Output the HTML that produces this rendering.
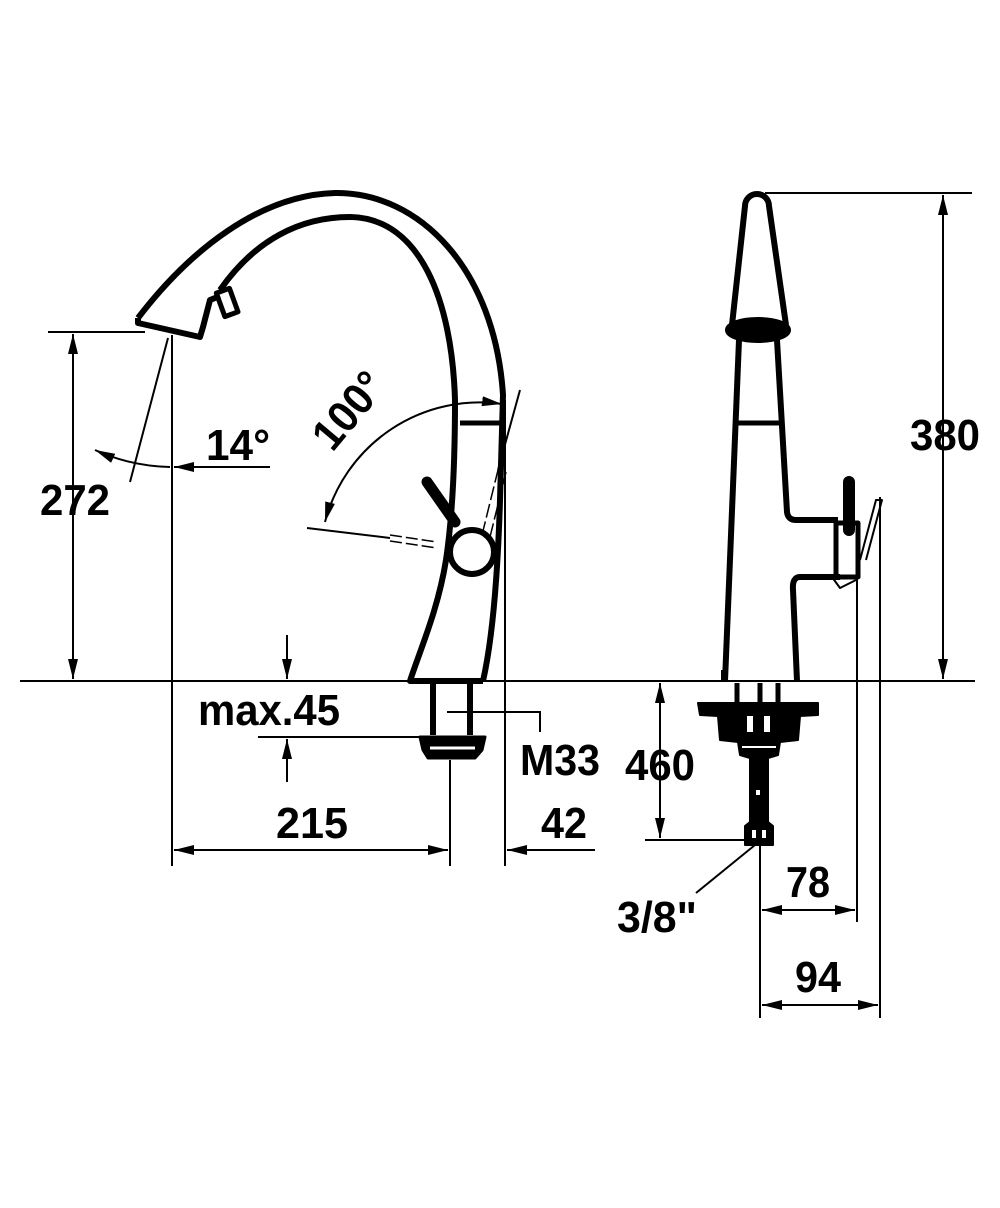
<!DOCTYPE html>
<html><head><meta charset="utf-8"><style>html,body{margin:0;padding:0;background:#fff}svg{display:block}text{font-family:"Liberation Sans",sans-serif;font-weight:bold;font-size:44px;fill:#000}</style></head>
<body>
<svg width="1000" height="1208" viewBox="0 0 1000 1208" xmlns="http://www.w3.org/2000/svg">
<defs>
<marker id="a" viewBox="0 0 20 10" refX="20" refY="5" markerWidth="20" markerHeight="10" markerUnits="userSpaceOnUse" orient="auto-start-reverse"><path d="M0,0L20,5L0,10z" fill="#000"/></marker>
</defs>
<g stroke="#000" fill="none" stroke-width="2">
<line x1="20" y1="681" x2="975" y2="681"/>
<line x1="48" y1="332" x2="145" y2="332"/>
<line x1="73" y1="334" x2="73" y2="679" marker-start="url(#a)" marker-end="url(#a)"/>
<line x1="172" y1="335" x2="172" y2="866"/>
<line x1="168" y1="338" x2="130" y2="482"/>
<path d="M95,450 Q130,466 170,467" marker-start="url(#a)"/>
<line x1="270" y1="467" x2="174" y2="467" marker-end="url(#a)"/>
<path d="M325,522 A160,160 0 0 1 502,404" marker-start="url(#a)" marker-end="url(#a)"/>
<line x1="307" y1="528" x2="390" y2="538"/>
<path d="M390,535 L437,542 M390,541 L437,548" stroke-dasharray="12,4" stroke-width="1.5"/>
<path d="M482,535 L498,470 M490,537 L506,472" stroke-dasharray="14,4" stroke-width="1.5"/>
<line x1="498" y1="470" x2="520" y2="390"/>
<line x1="505" y1="400" x2="505" y2="866"/>
<line x1="287" y1="635" x2="287" y2="679" marker-end="url(#a)"/>
<line x1="287" y1="782" x2="287" y2="739" marker-end="url(#a)"/>
<line x1="258" y1="737" x2="425" y2="737"/>
<path d="M447,712 L540,712 L540,732"/>
<line x1="450" y1="760" x2="450" y2="866"/>
<line x1="174" y1="850" x2="448" y2="850" marker-start="url(#a)" marker-end="url(#a)"/>
<line x1="595" y1="850" x2="507" y2="850" marker-end="url(#a)"/>
<line x1="765" y1="193" x2="972" y2="193"/>
<line x1="943" y1="195" x2="943" y2="679" marker-start="url(#a)" marker-end="url(#a)"/>
<line x1="660" y1="683" x2="660" y2="838" marker-start="url(#a)" marker-end="url(#a)"/>
<line x1="645" y1="840" x2="748" y2="840"/>
<line x1="755" y1="845" x2="696" y2="893"/>
<line x1="760" y1="845" x2="760" y2="1018"/>
<line x1="857" y1="577" x2="857" y2="922"/>
<line x1="880" y1="497" x2="880" y2="1018"/>
<line x1="762" y1="910" x2="855" y2="910" marker-start="url(#a)" marker-end="url(#a)"/>
<line x1="762" y1="1005" x2="878" y2="1005" marker-start="url(#a)" marker-end="url(#a)"/>
</g>
<g stroke="#000" fill="none" stroke-width="6" stroke-linejoin="round">
<path d="M138,318 C190,250 260,195 335,193 C420,192 495,270 503,395 L500,500 C497,600 490,650 483,681"/>
<path d="M220,290 C255,240 300,217 350,217 C420,218 452,300 455,400 C455,470 452,520 446,560 C438,610 420,650 410,681 L483,681"/>
<path d="M138,318 L138,323 L200,337 L203,327 L210,300 L220,296"/>
<rect x="220" y="290" width="14" height="25" transform="rotate(-20 227 302)" stroke-width="5"/>
<line x1="460" y1="423" x2="503" y2="423" stroke-width="5"/>
<circle cx="472" cy="552" r="22" fill="#fff" stroke-width="6"/>
<line x1="427" y1="482" x2="455" y2="522" stroke-width="11" stroke-linecap="round"/>
<path d="M433,681 L433,735 M470,681 L470,735"/>
<path d="M420,737 L485,737 L482,750 L475,758 L428,758 L423,750 Z" fill="#000" stroke-width="3"/>
<line x1="430" y1="748" x2="475" y2="748" stroke="#fff" stroke-width="3"/>
</g>
<g stroke="#000" fill="none" stroke-width="6" stroke-linejoin="round">
<path d="M732,325 L745,206 A12,12 0 0 1 769,206 L786,325"/>
<ellipse cx="758" cy="330" rx="30" ry="10" fill="#000"/>
<path d="M739,340 L725,681 M777,340 L787,512 Q788,520 796,520 L838,520 M840,577 L800,577 Q792,577 793,590 L797,681"/>
<line x1="738" y1="423" x2="780" y2="423" stroke-width="5"/>
<rect x="836" y="523" width="22" height="54" stroke-width="5"/>
<line x1="849" y1="482" x2="849" y2="530" stroke-width="12" stroke-linecap="round"/>
<path d="M860,560 L876,500 L882,500 L866,560" stroke-width="2"/>
<path d="M832,577 L840,588 L856,580" stroke-width="2"/>
<path d="M723,681 L723,670 M797,681 L797,670" stroke-width="4"/>
<path d="M737,683 L737,705 M760,683 L760,705 M778,683 L778,705" stroke-width="5"/>
<path d="M698,703 L818,703 L818,715 L800,716 L798,740 L780,742 L778,755 L768,758 L768,822 L773,826 L773,845 L745,845 L745,826 L750,822 L750,758 L740,755 L738,742 L720,740 L718,716 L700,715 Z" fill="#000" stroke-width="2"/>
<g fill="#fff" stroke="none"><rect x="747" y="716" width="6" height="16"/><rect x="764" y="716" width="6" height="16"/><rect x="742" y="746" width="34" height="2"/><rect x="756" y="790" width="4" height="5"/><rect x="752" y="830" width="4" height="8"/><rect x="762" y="830" width="4" height="8"/></g>
</g>
<text x="75" y="515" text-anchor="middle" textLength="70" lengthAdjust="spacingAndGlyphs">272</text>
<text x="206" y="460" textLength="64" lengthAdjust="spacingAndGlyphs">14°</text>
<text x="360" y="420" text-anchor="middle" transform="rotate(-50 360 420)" textLength="86" lengthAdjust="spacingAndGlyphs">100°</text>
<text x="198" y="725" textLength="142" lengthAdjust="spacingAndGlyphs">max.45</text>
<text x="520" y="775" textLength="80" lengthAdjust="spacingAndGlyphs">M33</text>
<text x="312" y="838" text-anchor="middle" textLength="72" lengthAdjust="spacingAndGlyphs">215</text>
<text x="564" y="838" text-anchor="middle" textLength="46" lengthAdjust="spacingAndGlyphs">42</text>
<text x="945" y="450" text-anchor="middle" textLength="70" lengthAdjust="spacingAndGlyphs">380</text>
<text x="660" y="780" text-anchor="middle" textLength="70" lengthAdjust="spacingAndGlyphs">460</text>
<text x="617" y="932" textLength="80" lengthAdjust="spacingAndGlyphs">3/8"</text>
<text x="808" y="897" text-anchor="middle" textLength="44" lengthAdjust="spacingAndGlyphs">78</text>
<text x="818" y="992" text-anchor="middle" textLength="46" lengthAdjust="spacingAndGlyphs">94</text>
</svg>
</body></html>
